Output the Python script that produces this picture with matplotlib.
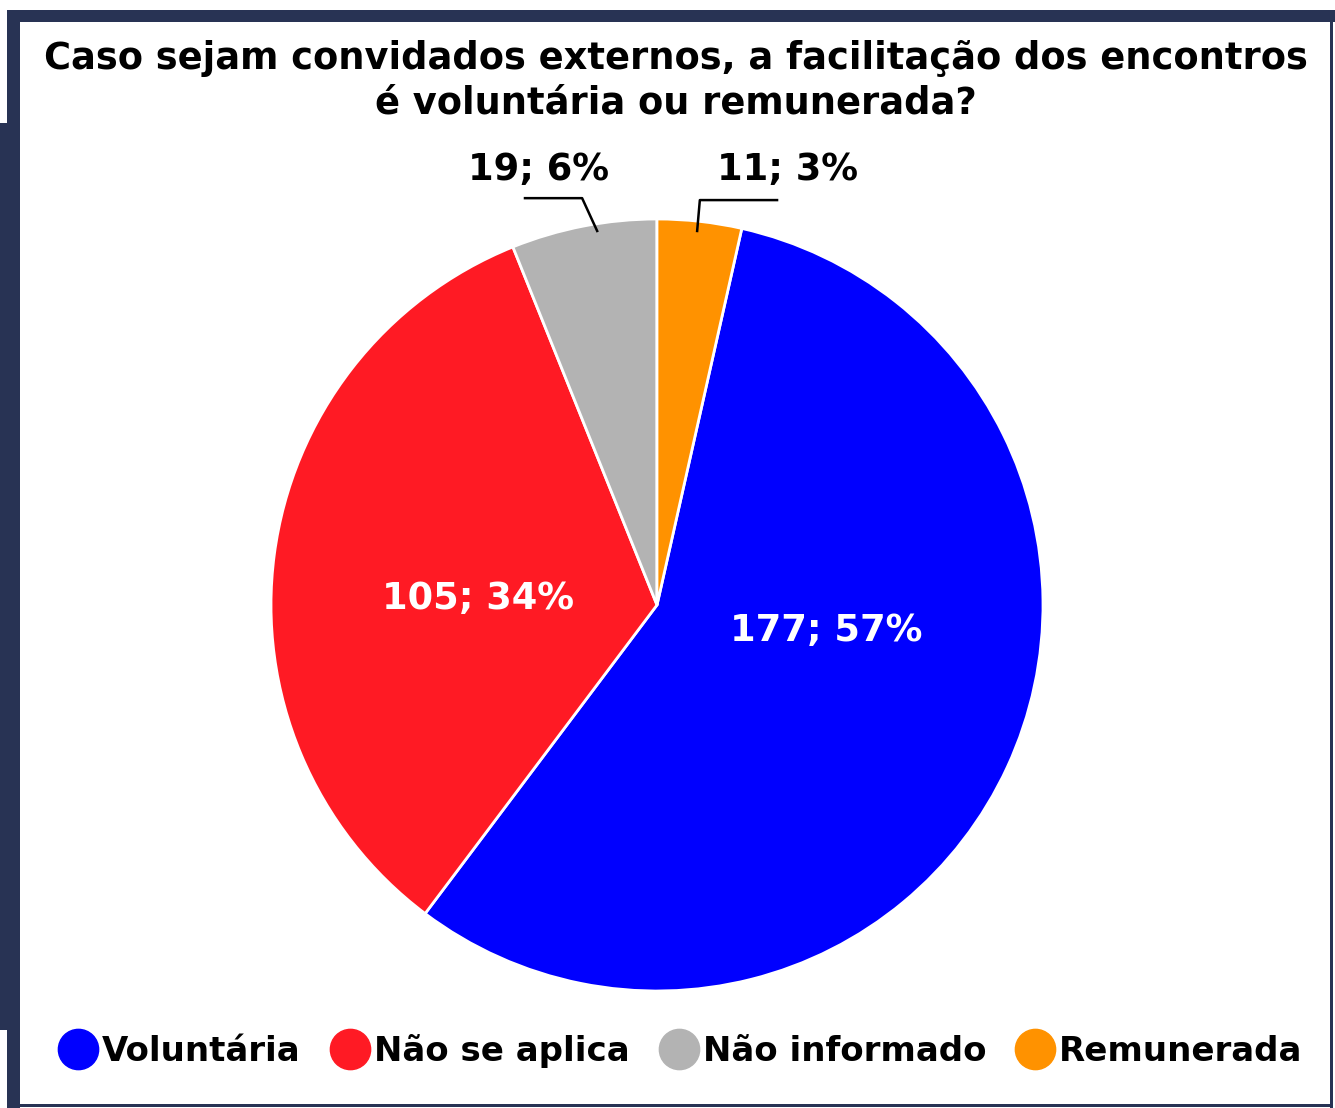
import matplotlib.pyplot as plt
from matplotlib.patches import Rectangle
from matplotlib.lines import Line2D

# dados do gráfico
categorias = ["Voluntária", "Não se aplica", "Não informado", "Remunerada"]
valores = [177, 105, 19, 11]
percentuais = [57, 34, 6, 3]  # como aparecem nos rótulos
cores = ["#0000FF", "#FF1A24", "#B3B3B3", "#FF9200"]
titulo = "Caso sejam convidados externos, a facilitação dos encontros\né voluntária ou remunerada?"

W, H = 1335, 1108
fig = plt.figure(figsize=(W / 100, H / 100), dpi=100)
fig.patch.set_facecolor("white")
plt.rcParams['font.family'] = ['DejaVu Sans']

navy = "#283354"


def caixa(x0, y0, x1, y1):
    # retângulo em pixels (origem no canto superior esquerdo)
    fig.add_artist(Rectangle((x0 / W, 1 - y1 / H), (x1 - x0) / W, (y1 - y0) / H,
                             transform=fig.transFigure, color=navy, lw=0, zorder=0))


# moldura
caixa(7, 10, W, 22)
caixa(7, 10, 20, H)
caixa(0, 123, 20, 1030)
caixa(1330, 10, 1333, H)
caixa(7, 1104, 1333, 1107)

# título
fig.text(676 / W, 1 - 81 / H, titulo, ha="center", va="center", fontsize=26.5,
         fontweight="bold", linespacing=1.25)

# pizza
cx, cy, r = 657, 605, 386
ax = fig.add_axes([(cx - r) / W, 1 - (cy + r) / H, 2 * r / W, 2 * r / H])
total = sum(valores)
ax.pie(valores, colors=cores, startangle=90 - 360 * valores[-1] / total,
       counterclock=False, radius=1,
       wedgeprops=dict(edgecolor="white", linewidth=2))
ax.set_xlim(-1, 1)
ax.set_ylim(-1, 1)
ax.set_aspect("equal")
ax.axis("off")

rotulos = [f"{v}; {p}%" for v, p in zip(valores, percentuais)]
pos = [(0.438, -0.065), (-0.464, 0.018), (-0.308, 1.127), (0.337, 1.127)]
cor_txt = ["white", "white", "black", "black"]
for t, (x, y), c in zip(rotulos, pos, cor_txt):
    ax.text(x, y, t, ha="center", va="center", fontsize=26.5, fontweight="bold",
            color=c, clip_on=False)

# linhas de chamada
ax.plot([-0.155, -0.194, -0.342], [0.969, 1.054, 1.054], color="black", lw=1.8, clip_on=False)
ax.plot([0.104, 0.111, 0.311], [0.969, 1.049, 1.049], color="black", lw=1.8, clip_on=False)

# legenda
handles = [Line2D([], [], marker="o", ls="", markersize=29, markerfacecolor=c,
                  markeredgecolor=c) for c in cores]
fig.legend(handles, categorias, loc="center",
           bbox_to_anchor=(681 / W, 1 - 1051 / H), ncol=4, frameon=False,
           prop=dict(size=24.5, weight="bold"), handletextpad=0.15,
           columnspacing=0.9, handlelength=1.1)

fig.savefig("out.png", dpi=100, facecolor="white")
